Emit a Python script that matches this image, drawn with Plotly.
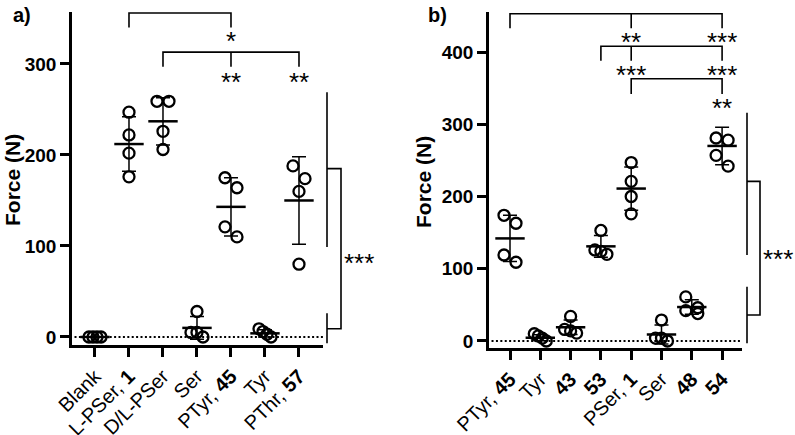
import plotly.graph_objects as go

# ---- panel a) data (Force, N) ----
a_labels = ["Blank", "L-PSer, <b>1</b>", "D/L-PSer", "Ser", "PTyr, <b>45</b>", "Tyr", "PThr, <b>57</b>"]
a_blank = [0, 0, 0, 0]
a_lpser = [247, 222, 202, 176]
a_dlpser = [259, 259, 226, 206]
a_ser = [28, 5, 5, 0]
a_ptyr = [175, 164, 121, 110]
a_tyr = [9, 6, 3, 0]
a_pthr = [188, 174, 160, 80]
a_mean = [0, 212, 237, 10, 143, 4, 150]
a_sd = [0, 30, 26, 12.5, 32, 4, 48]
a_yticks = [0, 100, 200, 300]

# ---- panel b) data (Force, N) ----
b_labels = ["PTyr, <b>45</b>", "Tyr", "<b>43</b>", "<b>53</b>", "PSer, <b>1</b>", "Ser", "<b>48</b>", "<b>54</b>"]
b_ptyr = [174, 163, 119, 109]
b_tyr = [10, 7, 4, 0]
b_43 = [34, 16, 14, 11]
b_53 = [153, 126, 124, 120]
b_pser = [247, 221, 200, 176]
b_ser = [29, 4, 4, 0]
b_48 = [61, 46, 42, 38]
b_54 = [281, 278, 257, 242]
b_mean = [142, 4.5, 19, 131, 211, 9, 47, 270]
b_sd = [32, 4, 10, 15, 30, 13, 10, 26]
b_yticks = [0, 100, 200, 300, 400]

# significance brackets: (start, end, middle ticks, top, leg bottom)
a_brackets = [(1, 4, [], 356, 340), (2, 6, [4], 313, 297)]
a_stars = [(4, 332, "*"), (4, 287, "**"), (6, 287, "**")]
b_brackets = [(0, 7, [4], 453, 433), (3, 7, [4], 408, 388), (4, 7, [], 363, 342)]
b_stars = [(4, 422, "**"), (7, 422, "***"), (4, 376, "***"), (7, 376, "***"), (7, 331, "**")]

FONT = "Liberation Sans"
W, H = 795, 435


def swarm(vals, px_y, px_x, diam=13, maxw=12):
    # GraphPad-like spreading: points close in y share a row, centred
    order = sorted(range(len(vals)), key=lambda i: -vals[i])
    offs = [0.0] * len(vals)
    rows, cur = [], [order[0]]
    for i in order[1:]:
        if (vals[cur[0]] - vals[i]) * px_y < diam:
            cur.append(i)
        else:
            rows.append(cur)
            cur = [i]
    rows.append(cur)
    for r in rows:
        n = len(r)
        if n == 1:
            continue
        step = min(12, maxw / (n - 1))
        for k, i in enumerate(r):
            offs[i] = (k - (n - 1) / 2) * step / px_x
    return offs


fig = go.Figure()

panels = [
    dict(xa="x", ya="y", pts=[a_blank, a_lpser, a_dlpser, a_ser, a_ptyr, a_tyr, a_pthr],
         mean=a_mean, sd=a_sd, px_x=34.0, px_y=0.910),
    dict(xa="x2", ya="y2", pts=[b_ptyr, b_tyr, b_43, b_53, b_pser, b_ser, b_48, b_54],
         mean=b_mean, sd=b_sd, px_x=30.3, px_y=0.7225),
]

for p in panels:
    for i, vals in enumerate(p["pts"]):
        offs = swarm(vals, p["px_y"], p["px_x"])
        fig.add_trace(go.Scatter(
            x=[i + o for o in offs], y=vals, mode="markers",
            marker=dict(symbol="circle-open", size=11, color="black", line=dict(width=2.3)),
            xaxis=p["xa"], yaxis=p["ya"], showlegend=False, cliponaxis=False, hoverinfo="y"))
    fig.add_trace(go.Scatter(
        x=list(range(len(p["mean"]))), y=p["mean"], mode="markers",
        marker=dict(symbol="line-ew", size=21, color="black", line=dict(width=2.5, color="black")),
        error_y=dict(type="data", array=p["sd"], width=7, thickness=1.5, color="black"),
        xaxis=p["xa"], yaxis=p["ya"], showlegend=False, cliponaxis=False))

shapes = []
annotations = []

# dotted zero lines
for xa, ya in [("x", "y"), ("x2", "y2")]:
    shapes.append(dict(type="line", xref=xa + " domain", yref=ya, x0=0.01, x1=1.0, y0=0, y1=0,
                       line=dict(color="black", width=2, dash="2px,2.4px"), layer="below"))

# top brackets
for brs, xa, ya in [(a_brackets, "x", "y"), (b_brackets, "x2", "y2")]:
    for s, e, mids, top, leg in brs:
        path = f"M{s},{leg} L{s},{top} L{e},{top} L{e},{leg}"
        for m in mids:
            path += f" M{m},{top} L{m},{leg}"
        shapes.append(dict(type="path", xref=xa, yref=ya, path=path,
                           line=dict(color="black", width=1.6)))

STAR = dict(size=26, family=FONT, color="black")
for sts, xa, ya in [(a_stars, "x", "y"), (b_stars, "x2", "y2")]:
    for c, yv, t in sts:
        annotations.append(dict(x=c, y=yv, xref=xa, yref=ya, text=t, showarrow=False,
                                xanchor="center", yanchor="middle", font=STAR, yshift=-6))

# side group brackets (paper x)
side = [
    dict(ya="y", xl=327, xr=341, up=(269, 99), lo=(26, -7), bt=185, bb=9, sx=359, sy=88),
    dict(ya="y2", xl=747, xr=760, up=(316, 119), lo=(75, -3), bt=221, bb=36, sx=778, sy=122),
]
for sd in side:
    xl, xr = sd["xl"] / W, sd["xr"] / W
    for y0, y1 in [sd["up"], sd["lo"]]:
        shapes.append(dict(type="line", xref="paper", yref=sd["ya"], x0=xl, x1=xl, y0=y0, y1=y1,
                           line=dict(color="black", width=1.6)))
    shapes.append(dict(type="path", xref="paper", yref=sd["ya"],
                       path=f"M{xl},{sd['bt']} L{xr},{sd['bt']} L{xr},{sd['bb']} L{xl},{sd['bb']}",
                       line=dict(color="black", width=1.6)))
    annotations.append(dict(x=sd["sx"] / W, y=sd["sy"], xref="paper", yref=sd["ya"], text="***",
                            showarrow=False, xanchor="center", yanchor="middle", font=STAR, yshift=-6))

# axis titles and panel labels
for xpx, ypx in [(13, 180), (423, 182)]:
    annotations.append(dict(x=xpx / W, y=1 - ypx / H, xref="paper", yref="paper", text="<b>Force (N)</b>",
                            textangle=-90, showarrow=False, xanchor="center", yanchor="middle",
                            font=dict(size=21, family=FONT, color="black")))
for xpx, t in [(11, "<b>a)</b>"), (426, "<b>b)</b>")]:
    annotations.append(dict(x=xpx / W, y=1 - 2 / H, xref="paper", yref="paper", text=t, xanchor="left",
                            yanchor="top", showarrow=False, font=dict(size=20, family=FONT, color="black")))

axis_common = dict(showline=True, linewidth=2.5, linecolor="black", ticks="outside", ticklen=9,
                   tickwidth=2.5, tickcolor="black", showgrid=False, zeroline=False, automargin=False)

fig.update_layout(
    width=W, height=H, margin=dict(l=0, r=0, t=0, b=0),
    paper_bgcolor="white", plot_bgcolor="white",
    font=dict(family=FONT, color="black"),
    xaxis=dict(domain=[72 / W, 323 / W], range=[-0.676, 6.706], tickvals=list(range(len(a_labels))),
               ticktext=a_labels, tickangle=-45, tickfont=dict(size=20), anchor="y", **axis_common),
    yaxis=dict(domain=[1 - 345 / H, 1 - 12 / H], range=[-8.8, 357.1], tickvals=a_yticks,
               tickfont=dict(size=19, weight="bold"), anchor="x", **axis_common),
    xaxis2=dict(domain=[489 / W, 742 / W], range=[-0.693, 7.657], tickvals=list(range(len(b_labels))),
                ticktext=b_labels, tickangle=-45, tickfont=dict(size=20), anchor="y2", **axis_common),
    yaxis2=dict(domain=[1 - 348 / H, 1 - 12 / H], range=[-9.7, 455.4], tickvals=b_yticks,
                tickfont=dict(size=19, weight="bold"), anchor="x2", **axis_common),
    shapes=shapes, annotations=annotations,
)

# the page's default 8px body margin would shift the figure; remove it
fig.write_html("out.html", config={"displayModeBar": False},
               post_script="document.body.style.margin='0';")
